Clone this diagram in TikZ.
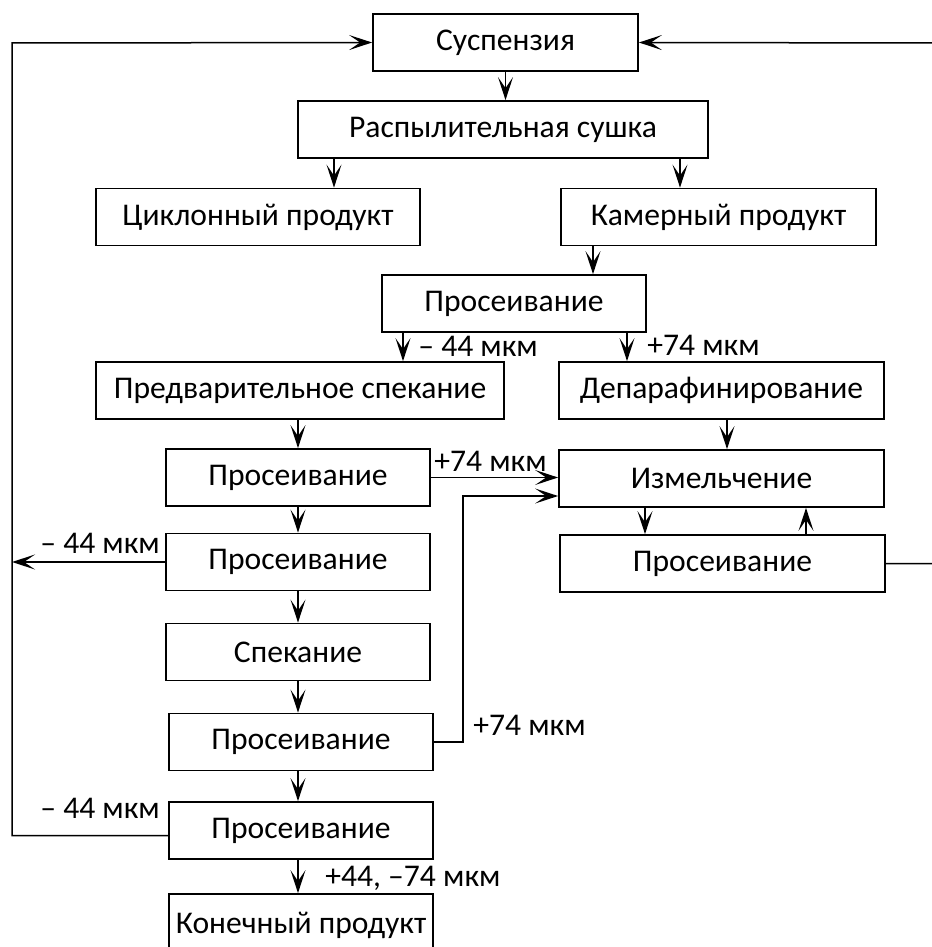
\documentclass[tikz,border=0pt]{standalone}
\usepackage{fontspec}
\setmainfont{Carlito}
\usetikzlibrary{arrows.meta}
\tikzset{
  box/.style={draw, line width=0.9pt, minimum height=28.5pt, inner sep=1pt},
  arr/.style={line width=0.75pt, -{Stealth[length=11.5pt,width=7.5pt,inset=5.5pt]}},
  lbl/.style={inner sep=0pt, anchor=west},
}
\begin{document}
\begin{tikzpicture}[x=0.5pt, y=-0.5pt, font=\fontsize{15.8pt}{18pt}\selectfont]
\useasboundingbox (0,0) rectangle (931,947);
% boxes
\node[box, minimum width=132.5pt] (susp) at (505.5,42.5) {Суспензия};
\node[box, minimum width=205pt] (raspyl) at (503,129.5) {Распылительная сушка};
\node[box, minimum width=162pt] (cyklon) at (258,217) {Циклонный продукт};
\node[box, minimum width=157.5pt] (kamer) at (718.5,217) {Камерный продукт};
\node[box, minimum width=132pt] (pros0) at (514,303.5) {Просеивание};
\node[box, minimum width=204pt] (predv) at (300,390.5) {Предварительное спекание};
\node[box, minimum width=162.5pt] (depar) at (721.5,390.5) {Депарафинирование};
\node[box, minimum width=132pt] (pl1) at (298,477.5) {Просеивание};
\node[box, minimum width=162.5pt] (izmel) at (721.5,478.5) {Измельчение};
\node[box, minimum width=132pt] (pl2) at (298,562) {Просеивание};
\node[box, minimum width=162.5pt] (pr) at (722.5,563.5) {Просеивание};
\node[box, minimum width=132pt] (spek) at (298,652) {Спекание};
\node[box, minimum width=132pt] (pl4) at (301,742) {Просеивание};
\node[box, minimum width=132pt] (pl5) at (301,830.5) {Просеивание};
\node[box, minimum width=132pt, minimum height=31pt] (konech) at (301,925) {Конечный продукт};
% return lines
\coordinate (lft) at (12,43);
\coordinate (rgt) at (937,43);
\coordinate (jn) at (463,496);
% arrows
\draw[arr] (susp.south) -- (susp.south |- raspyl.north);
\draw[arr] (raspyl.south -| 334,0) -- (cyklon.north -| 334,0);
\draw[arr] (raspyl.south -| 680,0) -- (kamer.north -| 680,0);
\draw[arr] (kamer.south -| 593,0) -- (pros0.north -| 593,0);
\draw[arr] (pros0.south -| 403,0) -- (predv.north -| 403,0);
\draw[arr] (pros0.south -| 627,0) -- (depar.north -| 627,0);
\draw[arr] (predv.south -| pl1.north) -- (pl1.north);
\draw[arr] (depar.south -| 727,0) -- (izmel.north -| 727,0);
\draw[arr] (pl1.east) -- (pl1.east -| izmel.west);
\draw[arr] (pl1.south) -- (pl2.north);
\draw[arr] (pl2.south) -- (spek.north);
\draw[arr] (spek.south) -- (spek.south |- pl4.north);
\draw[arr] (pl4.south -| spek.south) -- (pl5.north -| spek.south);
\draw[arr] (pl5.south -| spek.south) -- (konech.north -| spek.south);
\draw[arr] (izmel.south -| 645,0) -- (pr.north -| 645,0);
\draw[arr] (pr.north -| 806,0) -- (izmel.south -| 806,0);
\draw[arr] (pl2.west) -- (pl2.west -| lft);
\draw[arr] (pl4.east) -| (jn) -- (jn -| izmel.west);
\draw[arr] (pl5.west) ++(0,5) -| (lft) -- (susp.west);
\draw[arr] (pr.east) -| (rgt) -- (susp.east);
% labels
\node[lbl] (l1) at (418,346) {– 44 мкм};
\node[lbl] (l2) at (647,345) {+74 мкм};
\node[lbl] (l3) at (434,461) {+74 мкм};
\node[lbl] (l4) at (40,543) {– 44 мкм};
\node[lbl] (l5) at (473,725) {+74 мкм};
\node[lbl] (l6) at (40,808) {– 44 мкм};
\node[lbl] (l7) at (325,878) {+44, –74 мкм};
\end{tikzpicture}
\end{document}
